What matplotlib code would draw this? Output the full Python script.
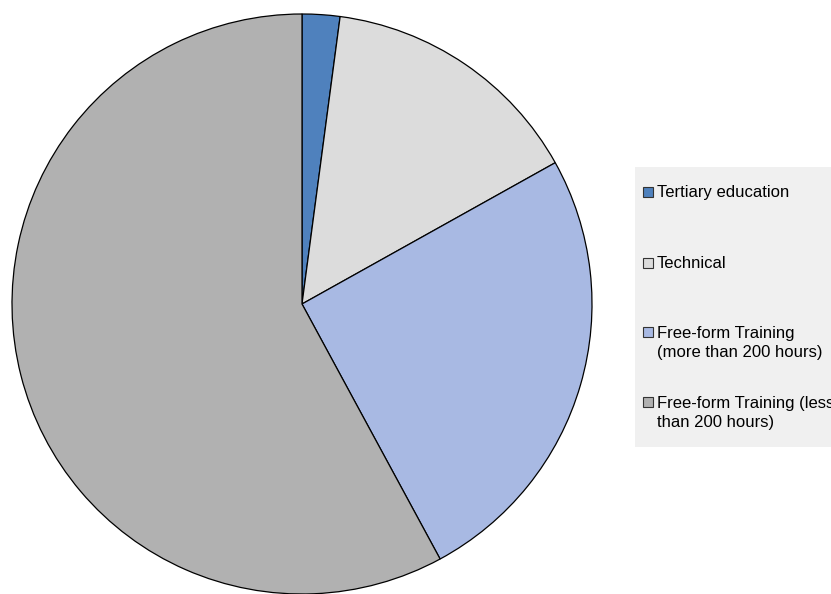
import matplotlib.pyplot as plt
from matplotlib.patches import Rectangle

labels = ["Tertiary education", "Technical",
          "Free-form Training\n(more than 200 hours)",
          "Free-form Training (less\nthan 200 hours)"]
shares = [2.1, 14.8, 25.2, 57.9]
colors = ["#4f81bd", "#dcdcdc", "#a8b9e3", "#b1b1b1"]

W, H = 831, 594
fig = plt.figure(figsize=(W / 100, H / 100), dpi=100)

# pie: centre (302, 304) px, radius 290 px
cx, cy, r = 302, 304, 290
ax = fig.add_axes([(cx - r) / W, (H - cy - r) / H, 2 * r / W, 2 * r / H])
ax.pie(shares, colors=colors, startangle=90, counterclock=False, radius=1,
       wedgeprops=dict(edgecolor="black", linewidth=0.9))
ax.set_xlim(-1, 1)
ax.set_ylim(-1, 1)
ax.set_aspect("equal")
ax.axis("off")


def px(x, y):
    return x / W, 1 - y / H


# legend box on the right, running off the edge
x0, y0 = px(635, 447)
fig.patches.append(Rectangle((x0, y0), (W - 635) / W, (447 - 167) / H,
                             transform=fig.transFigure, facecolor="#f0f0f0",
                             edgecolor="none", zorder=0))

baselines = [197, 268, 337, 407]
line_step = 20
for lab, col, yb in zip(labels, colors, baselines):
    sx, sy = px(643, yb)
    fig.patches.append(Rectangle((sx, sy), 10 / W, 10 / H, transform=fig.transFigure,
                                 facecolor=col, edgecolor="#333333", linewidth=0.8,
                                 zorder=2))
    # baseline alignment on multi-line text sits on the last line
    n = lab.count("\n")
    tx, ty = px(657, yb + n * line_step)
    fig.text(tx, ty, lab, ha="left", va="baseline", fontsize=12,
             family="Liberation Sans", linespacing=1.33, color="black")

fig.savefig("out.png", dpi=100)
